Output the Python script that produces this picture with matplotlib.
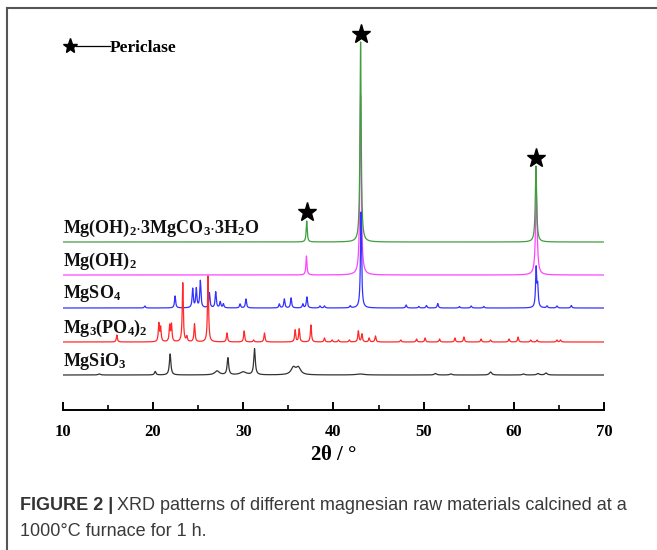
import numpy as np
import matplotlib
matplotlib.use("Agg")
import matplotlib.pyplot as plt
from matplotlib.lines import Line2D

plt.rcParams['mathtext.fontset'] = 'custom'
plt.rcParams['mathtext.bf'] = 'Liberation Serif:bold'
plt.rcParams['mathtext.rm'] = 'Liberation Serif:bold'
plt.rcParams['mathtext.it'] = 'Liberation Serif:bold:italic'

# ---------------- data (peak positions deg, heights, widths) ----------------
names = [r'$\mathbf{Mg(OH)_2{\cdot}3MgCO_3{\cdot}3H_2O}$',
         r'$\mathbf{Mg(OH)_2}$',
         r'$\mathbf{MgSO_4}$',
         r'$\mathbf{Mg_3(PO_4)_2}$',
         r'$\mathbf{MgSiO_3}$']
colors = ['#3f9f3f', '#ff44ff', '#3333ff', '#ff2a2a', '#333333']
offsets = [168, 135, 102, 68, 35]
zorders = [3, 2, 4, 5, 6]

green_pos = [37.03, 43.0, 62.43]
green_h = [21, 200, 76]
green_w = [0.14, 0.16, 0.18]

magenta_pos = [37.0, 43.0, 62.47]
magenta_h = [19, 180, 82]
magenta_w = [0.14, 0.18, 0.22]

blue_pos = [19.1, 22.45, 24.4, 24.8, 25.25, 26.25, 26.95, 27.45, 27.8, 29.65, 30.3,
            34.0, 34.55, 35.3, 36.6, 37.05, 38.5, 39.0, 41.85, 43.05, 48.05, 49.45,
            50.3, 51.55, 53.95, 55.25, 56.65, 62.45, 62.62, 63.65, 64.75, 66.35]
blue_h = [2, 12, 19, 19, 27, 15, 16, 6, 4, 4, 9,
          4, 9, 10, 4, 11, 2, 2, 2, 96, 3, 1.5,
          2.5, 4.5, 1.5, 2, 1.5, 39, 20, 2, 2, 2.5]
blue_w = [0.15] * len(blue_pos)

red_pos = [16.0, 20.65, 20.85, 21.85, 22.05, 23.3, 23.75, 24.6, 26.1, 28.2, 30.1,
           31.15, 32.35, 35.75, 36.2, 37.5, 39.0, 39.85, 40.55, 41.75, 42.75, 43.15,
           43.95, 44.65, 47.45, 49.2, 50.15, 51.75, 53.45, 54.45, 56.35, 57.4, 59.45,
           60.45, 61.85, 62.55, 64.75, 65.15]
red_h = [7, 18, 14, 16, 17, 59, 5, 18, 66, 9, 11,
         2, 9, 12, 13, 17, 4, 2, 2, 2, 11, 8,
         4, 6, 2, 3, 4, 3, 4, 5, 3, 2, 3,
         5, 2, 2, 2, 2]
red_w = [0.14] * len(red_pos)

black_pos = [14.05, 20.25, 21.9, 27.1, 28.3, 30.0, 31.25, 35.55, 36.1, 42.95,
             51.3, 53.0, 57.4, 61.05, 62.65, 63.55]
black_h = [1, 3.5, 21, 4, 17, 3, 26, 7, 7, 1,
           1.5, 1, 3, 1, 1.5, 2]
black_w = [0.3, 0.2, 0.2, 0.6, 0.2, 0.8, 0.2, 0.6, 0.6, 1.0,
           0.3, 0.3, 0.3, 0.3, 0.3, 0.3]

peaks = [(green_pos, green_h, green_w), (magenta_pos, magenta_h, magenta_w),
         (blue_pos, blue_h, blue_w), (red_pos, red_h, red_w),
         (black_pos, black_h, black_w)]

star_pos = [37.03, 43.0, 62.43]
star_y = [198, 376, 252]

xticks = [10, 20, 30, 40, 50, 60, 70]

# ---------------- figure ----------------
fig = plt.figure(figsize=(6.57, 5.5), dpi=100)
W, H = 657, 550
ax_left, ax_right = 62.7 / W, 604.3 / W
ax_bottom_px, ax_top_px = 410, 20
ax = fig.add_axes([ax_left, (H - ax_bottom_px) / H, ax_right - ax_left,
                   (ax_bottom_px - ax_top_px) / H])
ax.set_xlim(10, 70)
ax.set_ylim(0, ax_bottom_px - ax_top_px)

x = np.linspace(10, 70, 12001)
for (pos, hh, ww), off, col, zo in zip(peaks, offsets, colors, zorders):
    y = np.zeros_like(x)
    for p, h, w in zip(pos, hh, ww):
        g = (w / 2) ** 2
        y += h * g / ((x - p) ** 2 + g)
    ax.plot(x, y + off, color=col, lw=0.9, zorder=zo)

for name, off in zip(names, offsets):
    ax.text(10.0, off + 9.5, name, fontsize=13, va='baseline', ha='left',
            color='#111111')

ax.plot(star_pos, star_y, linestyle='none', marker='*', ms=14, color='black',
        zorder=8)

# legend
ax.plot([10.85], [364], marker='*', ms=11, color='black', clip_on=False)
ax.plot([11.5, 15.2], [364, 364], color='black', lw=0.9)
ax.text(15.2, 358, 'Periclase', fontsize=12.5, fontweight='bold',
        family='Liberation Serif', va='baseline', ha='left')

for s in ['top', 'right', 'left']:
    ax.spines[s].set_visible(False)
ax.spines['bottom'].set_linewidth(1.4)
ax.set_yticks([])
ax.set_xticks(xticks)
ax.set_xticks([15, 25, 35, 45, 55, 65], minor=True)
ax.tick_params(axis='x', which='major', direction='in', length=6, width=1.4,
               pad=10)
ax.tick_params(axis='x', which='minor', direction='in', length=3.5, width=1.2)
ax.set_xticklabels([str(t) for t in xticks], fontsize=12, fontweight='bold',
                   family='Liberation Serif')
ax.set_xlabel(r'$\mathbf{2\theta}$ / °', fontsize=15, family='Liberation Serif',
              fontweight='bold', labelpad=4)

# frame
fig.add_artist(Line2D([7 / W, 1.0], [1 - 8 / H, 1 - 8 / H], color='#555555', lw=1.5))
fig.add_artist(Line2D([7 / W, 7 / W], [0, 1 - 8 / H], color='#555555', lw=1.5))

# caption
t1 = fig.text(20 / W, 1 - 510 / H, 'FIGURE 2 |', fontsize=13, fontweight='bold',
              family='Liberation Sans', color='#333333', va='baseline')
fig.canvas.draw()
bb = t1.get_window_extent()
fig.text((bb.x1 + 4) / W, 1 - 510 / H,
         'XRD patterns of different magnesian raw materials calcined at a',
         fontsize=13, family='Liberation Sans', color='#3a3a3a', va='baseline')
fig.text(20 / W, 1 - 536 / H, '1000°C furnace for 1 h.', fontsize=13,
         family='Liberation Sans', color='#3a3a3a', va='baseline')

fig.savefig('out.png', dpi=100)
